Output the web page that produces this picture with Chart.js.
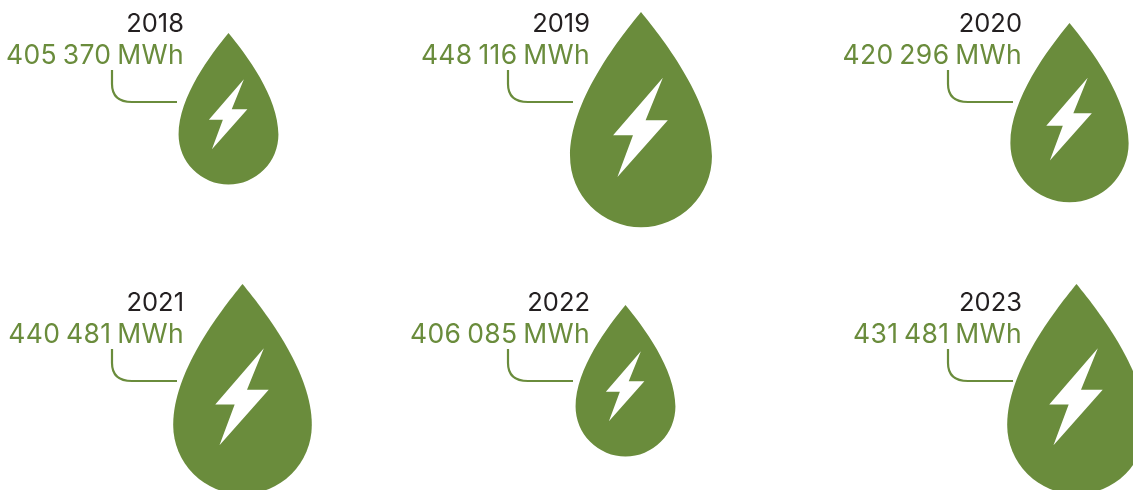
<!DOCTYPE html>
<html>
<head>
<meta charset="utf-8">
<style>html,body{margin:0;padding:0;background:#fff}canvas{display:block}</style>
<script src="https://cdn.jsdelivr.net/npm/chart.js@4"></script>
</head>
<body>
<canvas id="c" width="1133" height="490"></canvas>
<script>
// data
const years = ['2018','2019','2020','2021','2022','2023'];
const production = [405370,448116,420296,440481,406085,431481];
const unit = 'MWh';

// layout (pictogram placement, in the pixel-like units of the axes)
const dropCentreX = [228.5,641,1069.5,242.5,625.5,1076.5];
const dropTipY    = [33,12,23,284,305,284];
const dropHeight  = [152,216,180,211,152,211];
const labelRight  = [184,590,1022,184,590,1022];
const rowTop      = [0,0,0,279,279,279];
const leaderLeft  = [112,508,948,112,508,948];

const GREEN = '#6a8c3c', INK = '#231f20';

function dropCanvas(h,i){
  const hw = h*0.3285;
  let W = Math.ceil(hw*2)+2, H = Math.ceil(h)+2;
  const cy = dropTipY[i]+h/2;
  if ((dropCentreX[i]-W/2)%1) W++;
  if ((cy-H/2)%1) H++;
  const cv = document.createElement('canvas'); cv.width = W; cv.height = H;
  const g = cv.getContext('2d');
  const cx = W/2, oy = (H-h)/2;
  const X = u => cx+u*hw, Y = v => oy+v*h;
  g.fillStyle = GREEN;
  g.beginPath();
  g.moveTo(X(0),Y(0));
  g.bezierCurveTo(X(0.35),Y(0.14),X(1),Y(0.42),X(1),Y(0.668));
  g.arc(cx,Y(0.668),hw,0,Math.PI,false);
  g.bezierCurveTo(X(-1),Y(0.42),X(-0.35),Y(0.14),X(0),Y(0));
  g.closePath(); g.fill();
  const bolt = [[.308,.304],[.065,.501],[.378,.501],[-.332,.764],[-.113,.571],[-.393,.571]];
  g.fillStyle = '#fff';
  g.beginPath();
  bolt.forEach((p,k)=> k? g.lineTo(X(p[0]),Y(p[1])) : g.moveTo(X(p[0]),Y(p[1])));
  g.closePath(); g.fill();
  return cv;
}
const dropImages = dropHeight.map(dropCanvas);
const fmt = v => String(v).replace(/\B(?=(\d{3})+$)/g,' ');

const labelsPlugin = {
  id:'labels',
  afterDatasetsDraw(chart){
    const {ctx, scales:{x,y}} = chart;
    ctx.save();
    ctx.textAlign = 'right'; ctx.textBaseline = 'alphabetic';
    years.forEach((yr,i)=>{
      const r = x.getPixelForValue(labelRight[i]), t = rowTop[i];
      ctx.letterSpacing = '0px'; ctx.wordSpacing = '0px';
      ctx.font = '400 25.5px Inter';
      ctx.fillStyle = INK;
      ctx.fillText(yr, r, y.getPixelForValue(t+32));
      ctx.letterSpacing = '0.35px'; ctx.wordSpacing = '-2px';
      ctx.font = '400 26.5px Inter';
      ctx.fillStyle = GREEN;
      ctx.fillText(fmt(production[i])+' '+unit, r, y.getPixelForValue(t+64));
      // leader
      const l = x.getPixelForValue(leaderLeft[i]);
      const top = y.getPixelForValue(t+70), bot = y.getPixelForValue(t+102);
      ctx.strokeStyle = GREEN; ctx.lineWidth = 2.2;
      ctx.beginPath();
      ctx.moveTo(l,top);
      ctx.lineTo(l,bot-18);
      ctx.quadraticCurveTo(l,bot,l+20,bot);
      ctx.lineTo(l+65,bot);
      ctx.stroke();
    });
    ctx.restore();
  }
};

new Chart(document.getElementById('c'),{
  type:'scatter',
  data:{
    labels:years,
    datasets:[{
      label:'Production',
      clip:false,
      data:production.map((v,i)=>({x:dropCentreX[i], y:dropTipY[i]+dropHeight[i]/2, value:v})),
      pointStyle:ctx=>dropImages[ctx.dataIndex],
      pointRadius:20,
      backgroundColor:GREEN,
      borderWidth:0
    }]
  },
  options:{
    responsive:false,
    animation:false,
    layout:{padding:0,autoPadding:false},
    plugins:{legend:{display:false},tooltip:{enabled:false},title:{display:false}},
    scales:{
      x:{type:'linear',min:0,max:1133,display:false},
      y:{type:'linear',min:0,max:490,reverse:true,display:false}
    }
  },
  plugins:[labelsPlugin]
});
</script>
</body>
</html>
